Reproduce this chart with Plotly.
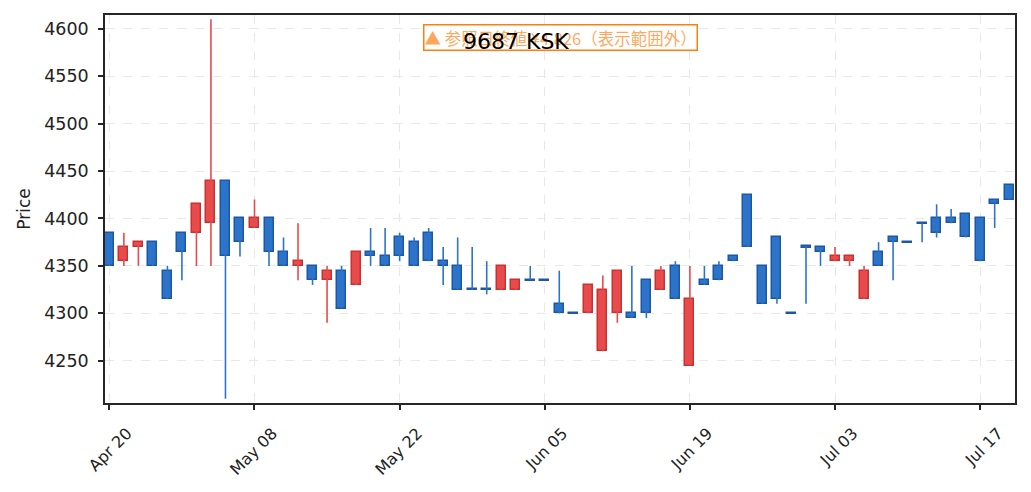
import plotly.graph_objects as go

# daily candles, oldest first (index 0 = Apr 20)
opens = [4385, 4355, 4370, 4375, 4345, 4385, 4385, 4395, 4440, 4400,
         4390, 4400, 4365, 4350, 4350, 4335, 4345, 4330, 4365, 4360,
         4380, 4375, 4385, 4355, 4350, 4325, 4325, 4325, 4325, 4335,
         4335, 4310, 4300, 4300, 4260, 4300, 4300, 4335, 4325, 4350,
         4245, 4335, 4350, 4360, 4425, 4350, 4380, 4300, 4370, 4370,
         4355, 4355, 4315, 4365, 4380, 4375, 4395, 4400, 4400, 4405,
         4400, 4420, 4435]
highs = [4385, 4385, 4375, 4375, 4350, 4385, 4415, 4610, 4440, 4400,
         4420, 4400, 4380, 4395, 4350, 4350, 4350, 4365, 4390, 4390,
         4385, 4380, 4390, 4370, 4380, 4370, 4355, 4350, 4335, 4350,
         4335, 4345, 4300, 4330, 4340, 4345, 4350, 4335, 4350, 4355,
         4350, 4350, 4355, 4360, 4425, 4350, 4380, 4300, 4370, 4370,
         4370, 4360, 4350, 4375, 4380, 4375, 4395, 4415, 4410, 4405,
         4400, 4420, 4435]
lows = [4350, 4350, 4350, 4350, 4315, 4335, 4350, 4350, 4210, 4360,
        4390, 4350, 4350, 4335, 4330, 4290, 4305, 4330, 4350, 4350,
        4355, 4350, 4355, 4330, 4325, 4325, 4320, 4325, 4325, 4335,
        4335, 4300, 4300, 4300, 4260, 4290, 4295, 4295, 4325, 4315,
        4245, 4330, 4335, 4355, 4370, 4310, 4310, 4300, 4310, 4350,
        4355, 4350, 4315, 4350, 4335, 4375, 4375, 4380, 4395, 4380,
        4355, 4390, 4420]
closes = [4350, 4370, 4375, 4350, 4315, 4365, 4415, 4440, 4360, 4375,
          4400, 4365, 4350, 4355, 4335, 4345, 4305, 4365, 4360, 4350,
          4360, 4350, 4355, 4350, 4325, 4325, 4325, 4350, 4335, 4335,
          4335, 4300, 4300, 4330, 4325, 4345, 4295, 4300, 4345, 4315,
          4315, 4330, 4335, 4355, 4370, 4310, 4315, 4300, 4370, 4365,
          4360, 4360, 4345, 4350, 4375, 4375, 4395, 4385, 4395, 4380,
          4355, 4415, 4420]

tick_pos = [0, 10, 20, 30, 40, 50, 60]
tick_labels = ["Apr 20", "May 08", "May 22", "Jun 05", "Jun 19", "Jul 03", "Jul 17"]

ticker = "9687 KSK"
ref_close = 4826

UP_FILL, UP_LINE = "#e84b4b", "#c93131"
DN_FILL, DN_LINE = "#2c74c9", "#1c57a5"

fig = go.Figure()

# split into up (red) and down/flat (blue) candles
groups = {"up": dict(x=[], base=[], h=[], wx=[], wy=[]),
          "down": dict(x=[], base=[], h=[], wx=[], wy=[])}
for i, (o, h, l, c) in enumerate(zip(opens, highs, lows, closes)):
    g = groups["up" if c > o else "down"]
    lo, hi = min(o, c), max(o, c)
    if hi - lo < 1:
        # flat candle -> thin dash
        lo, hi = lo - 0.6, lo + 0.6
    g["x"].append(i)
    g["base"].append(lo)
    g["h"].append(hi - lo)
    g["wx"] += [i, i, None]
    g["wy"] += [l, h, None]

# wicks first so bodies sit on top
for key, fill in [("down", DN_FILL), ("up", UP_FILL)]:
    g = groups[key]
    fig.add_trace(go.Scatter(
        x=g["wx"], y=g["wy"], mode="lines",
        line=dict(color=fill, width=1.6),
        hoverinfo="skip", showlegend=False
    ))

for key, fill, line in [("down", DN_FILL, DN_LINE), ("up", UP_FILL, UP_LINE)]:
    g = groups[key]
    fig.add_trace(go.Bar(
        x=g["x"], y=g["h"], base=g["base"], width=0.62,
        marker=dict(color=fill, line=dict(color=line, width=1.5)),
        showlegend=False
    ))

latin = "DejaVu Sans, Noto Sans CJK JP, sans-serif"
cjk = "Noto Sans CJK JP, sans-serif"

fig.add_annotation(
    text=f"▲ 参照日終値 ¥{ref_close:,}（表示範囲外）",
    xref="paper", yref="paper", x=0.5, y=0.978,
    xanchor="center", yanchor="top", showarrow=False,
    font=dict(family=cjk, size=16.5, color="rgba(255,127,14,0.7)"),
    bgcolor="rgba(255,255,255,0.85)",
    bordercolor="#ff7f0e", borderwidth=1.5, borderpad=0
)
# title drawn as the last annotation so it sits above the note box
fig.add_annotation(
    text=ticker, xref="paper", yref="paper", x=0.452, y=0.931,
    xanchor="center", yanchor="middle", showarrow=False,
    font=dict(family=latin, size=22, color="black")
)

axis_common = dict(
    showline=True, linecolor="#262626", linewidth=1.6, mirror=True,
    ticks="outside", ticklen=5, tickwidth=1.5, tickcolor="#262626",
    showgrid=True, gridcolor="#e8e8e8", griddash="dash", gridwidth=1,
    zeroline=False
)

fig.update_layout(
    width=1031, height=492,
    font=dict(family=latin, color="#222"),
    plot_bgcolor="white", paper_bgcolor="white",
    margin=dict(l=97, r=24, t=5, b=97),
    barmode="overlay", bargap=0,
    xaxis=dict(range=[-0.3, 62.4], tickvals=tick_pos, ticktext=tick_labels,
               tickangle=-45, tickfont=dict(size=16),
               ticklabelshift=18, ticklabelstandoff=8, **axis_common),
    yaxis=dict(range=[4205.5, 4614.5], dtick=50, tick0=4250,
               tickfont=dict(size=17.5), ticklabelstandoff=6,
               title=dict(text="Price", font=dict(size=17), standoff=9),
               **axis_common),
)

fig.write_html("out.html")
